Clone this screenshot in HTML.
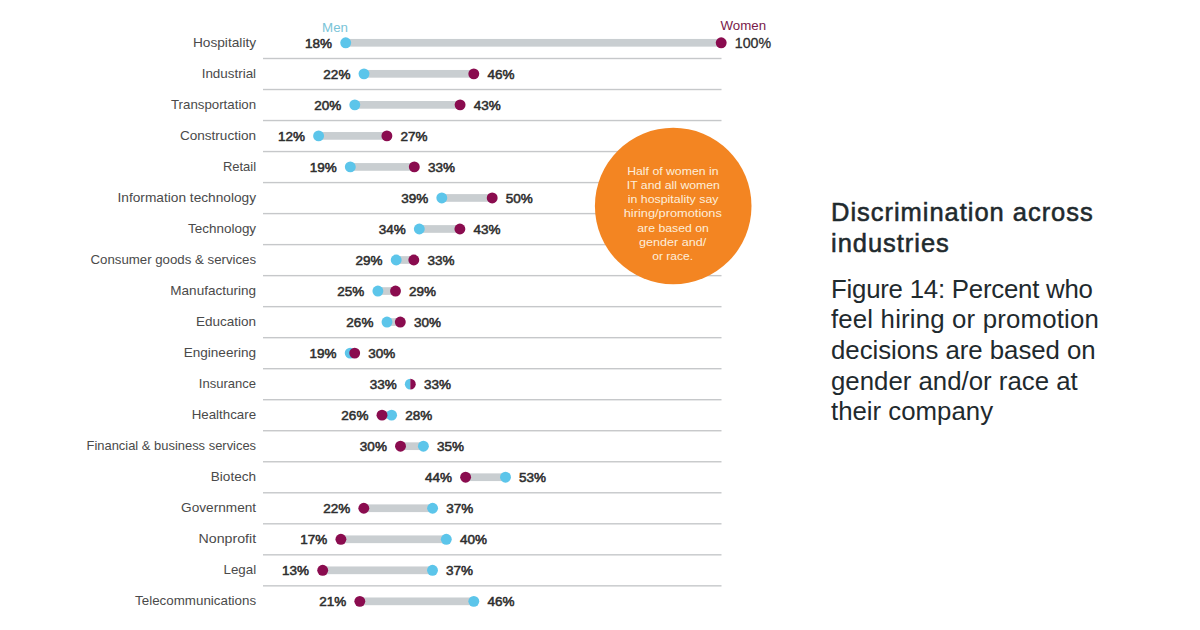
<!DOCTYPE html>
<html><head><meta charset="utf-8">
<style>
html,body{margin:0;padding:0;background:#fff;}
body{width:1200px;height:630px;overflow:hidden;position:relative;font-family:"Liberation Sans",sans-serif;}
svg{position:absolute;left:0;top:0;}
.cat{font-family:"Liberation Sans",sans-serif;font-size:13.4px;fill:#4a4a4a;text-anchor:end;}
.val{font-family:"Liberation Sans",sans-serif;font-size:13.5px;font-weight:normal;fill:#2e2e2e;stroke:#2e2e2e;stroke-width:0.55px;}
.v100{font-weight:normal;font-size:14.2px;stroke:#2e2e2e;stroke-width:0.3px;}
.leg{font-family:"Liberation Sans",sans-serif;font-size:13.3px;}
.circ{font-family:"Liberation Sans",sans-serif;font-size:11.6px;fill:#fdeedb;text-anchor:middle;}
.h1{position:absolute;left:831px;top:197px;font-size:25.5px;letter-spacing:0.97px;-webkit-text-stroke:0.55px #1f2a2e;color:#1f2a2e;line-height:31px;white-space:nowrap;}
.h2{position:absolute;left:831px;top:273.5px;font-size:25.8px;color:#1f2a2e;line-height:30.7px;white-space:nowrap;}
</style></head><body>
<svg width="1200" height="630" viewBox="0 0 1200 630">
<text x="335" y="31.7" class="leg" fill="#79c4d8" text-anchor="middle">Men</text>
<text x="743.3" y="29.8" class="leg" fill="#7a1a4a" text-anchor="middle">Women</text>
<rect x="263" y="57.80" width="458.5" height="1.4" fill="#c6c8ca"/>
<rect x="263" y="88.82" width="458.5" height="1.4" fill="#c6c8ca"/>
<rect x="263" y="119.84" width="458.5" height="1.4" fill="#c6c8ca"/>
<rect x="263" y="150.86" width="458.5" height="1.4" fill="#c6c8ca"/>
<rect x="263" y="181.88" width="458.5" height="1.4" fill="#c6c8ca"/>
<rect x="263" y="212.90" width="458.5" height="1.4" fill="#c6c8ca"/>
<rect x="263" y="243.92" width="458.5" height="1.4" fill="#c6c8ca"/>
<rect x="263" y="274.94" width="458.5" height="1.4" fill="#c6c8ca"/>
<rect x="263" y="305.96" width="458.5" height="1.4" fill="#c6c8ca"/>
<rect x="263" y="336.98" width="458.5" height="1.4" fill="#c6c8ca"/>
<rect x="263" y="368.00" width="458.5" height="1.4" fill="#c6c8ca"/>
<rect x="263" y="399.02" width="458.5" height="1.4" fill="#c6c8ca"/>
<rect x="263" y="430.04" width="458.5" height="1.4" fill="#c6c8ca"/>
<rect x="263" y="461.06" width="458.5" height="1.4" fill="#c6c8ca"/>
<rect x="263" y="492.08" width="458.5" height="1.4" fill="#c6c8ca"/>
<rect x="263" y="523.10" width="458.5" height="1.4" fill="#c6c8ca"/>
<rect x="263" y="554.12" width="458.5" height="1.4" fill="#c6c8ca"/>
<rect x="263" y="585.14" width="458.5" height="1.4" fill="#c6c8ca"/>
<text x="256.10" y="46.50" class="cat" textLength="63.20" lengthAdjust="spacingAndGlyphs">Hospitality</text>
<rect x="345.70" y="38.95" width="375.50" height="7.7" fill="#c9ced1"/>
<circle cx="345.70" cy="42.80" r="5.45" fill="#5cc5ea"/>
<circle cx="721.20" cy="42.80" r="5.45" fill="#8a0c4f"/>
<text x="332.10" y="47.60" class="val" text-anchor="end">18%</text>
<text x="734.80" y="47.60" class="val v100">100%</text>
<text x="256.10" y="77.53" class="cat" textLength="54.40" lengthAdjust="spacingAndGlyphs">Industrial</text>
<rect x="364.00" y="69.98" width="109.80" height="7.7" fill="#c9ced1"/>
<circle cx="364.00" cy="73.83" r="5.45" fill="#5cc5ea"/>
<circle cx="473.80" cy="73.83" r="5.45" fill="#8a0c4f"/>
<text x="350.40" y="78.63" class="val" text-anchor="end">22%</text>
<text x="487.40" y="78.63" class="val">46%</text>
<text x="256.10" y="108.56" class="cat" textLength="85.10" lengthAdjust="spacingAndGlyphs">Transportation</text>
<rect x="354.80" y="101.01" width="105.30" height="7.7" fill="#c9ced1"/>
<circle cx="354.80" cy="104.86" r="5.45" fill="#5cc5ea"/>
<circle cx="460.10" cy="104.86" r="5.45" fill="#8a0c4f"/>
<text x="341.20" y="109.66" class="val" text-anchor="end">20%</text>
<text x="473.70" y="109.66" class="val">43%</text>
<text x="256.10" y="139.59" class="cat" textLength="76.20" lengthAdjust="spacingAndGlyphs">Construction</text>
<rect x="318.60" y="132.04" width="68.30" height="7.7" fill="#c9ced1"/>
<circle cx="318.60" cy="135.89" r="5.45" fill="#5cc5ea"/>
<circle cx="386.90" cy="135.89" r="5.45" fill="#8a0c4f"/>
<text x="305.00" y="140.69" class="val" text-anchor="end">12%</text>
<text x="400.50" y="140.69" class="val">27%</text>
<text x="256.10" y="170.62" class="cat" textLength="33.20" lengthAdjust="spacingAndGlyphs">Retail</text>
<rect x="350.30" y="163.07" width="64.00" height="7.7" fill="#c9ced1"/>
<circle cx="350.30" cy="166.92" r="5.45" fill="#5cc5ea"/>
<circle cx="414.30" cy="166.92" r="5.45" fill="#8a0c4f"/>
<text x="336.70" y="171.72" class="val" text-anchor="end">19%</text>
<text x="427.90" y="171.72" class="val">33%</text>
<text x="256.10" y="201.65" class="cat" textLength="138.60" lengthAdjust="spacingAndGlyphs">Information technology</text>
<rect x="441.80" y="194.10" width="50.40" height="7.7" fill="#c9ced1"/>
<circle cx="441.80" cy="197.95" r="5.45" fill="#5cc5ea"/>
<circle cx="492.20" cy="197.95" r="5.45" fill="#8a0c4f"/>
<text x="428.20" y="202.75" class="val" text-anchor="end">39%</text>
<text x="505.80" y="202.75" class="val">50%</text>
<text x="256.10" y="232.68" class="cat" textLength="68.00" lengthAdjust="spacingAndGlyphs">Technology</text>
<rect x="419.30" y="225.13" width="40.60" height="7.7" fill="#c9ced1"/>
<circle cx="419.30" cy="228.98" r="5.45" fill="#5cc5ea"/>
<circle cx="459.90" cy="228.98" r="5.45" fill="#8a0c4f"/>
<text x="405.70" y="233.78" class="val" text-anchor="end">34%</text>
<text x="473.50" y="233.78" class="val">43%</text>
<text x="256.10" y="263.71" class="cat" textLength="165.60" lengthAdjust="spacingAndGlyphs">Consumer goods &amp; services</text>
<rect x="396.20" y="256.16" width="17.60" height="7.7" fill="#c9ced1"/>
<circle cx="396.20" cy="260.01" r="5.45" fill="#5cc5ea"/>
<circle cx="413.80" cy="260.01" r="5.45" fill="#8a0c4f"/>
<text x="382.60" y="264.81" class="val" text-anchor="end">29%</text>
<text x="427.40" y="264.81" class="val">33%</text>
<text x="256.10" y="294.74" class="cat" textLength="85.80" lengthAdjust="spacingAndGlyphs">Manufacturing</text>
<rect x="377.90" y="287.19" width="17.60" height="7.7" fill="#c9ced1"/>
<circle cx="377.90" cy="291.04" r="5.45" fill="#5cc5ea"/>
<circle cx="395.50" cy="291.04" r="5.45" fill="#8a0c4f"/>
<text x="364.30" y="295.84" class="val" text-anchor="end">25%</text>
<text x="409.10" y="295.84" class="val">29%</text>
<text x="256.10" y="325.77" class="cat" textLength="60.10" lengthAdjust="spacingAndGlyphs">Education</text>
<rect x="387.00" y="318.22" width="13.30" height="7.7" fill="#c9ced1"/>
<circle cx="387.00" cy="322.07" r="5.45" fill="#5cc5ea"/>
<circle cx="400.30" cy="322.07" r="5.45" fill="#8a0c4f"/>
<text x="373.40" y="326.87" class="val" text-anchor="end">26%</text>
<text x="413.90" y="326.87" class="val">30%</text>
<text x="256.10" y="356.80" class="cat" textLength="72.40" lengthAdjust="spacingAndGlyphs">Engineering</text>
<rect x="350.20" y="349.25" width="4.50" height="7.7" fill="#c9ced1"/>
<circle cx="350.20" cy="353.10" r="5.45" fill="#5cc5ea"/>
<circle cx="354.70" cy="353.10" r="5.45" fill="#8a0c4f"/>
<text x="336.60" y="357.90" class="val" text-anchor="end">19%</text>
<text x="368.30" y="357.90" class="val">30%</text>
<text x="256.10" y="387.83" class="cat" textLength="57.30" lengthAdjust="spacingAndGlyphs">Insurance</text>
<path d="M410.30 378.68 A5.45 5.45 0 0 0 410.30 389.58 Z" fill="#5cc5ea"/>
<path d="M410.30 378.68 A5.45 5.45 0 0 1 410.30 389.58 Z" fill="#8a0c4f"/>
<text x="396.70" y="388.93" class="val" text-anchor="end">33%</text>
<text x="423.90" y="388.93" class="val">33%</text>
<text x="256.10" y="418.86" class="cat" textLength="64.40" lengthAdjust="spacingAndGlyphs">Healthcare</text>
<rect x="382.00" y="411.31" width="9.60" height="7.7" fill="#c9ced1"/>
<circle cx="391.60" cy="415.16" r="5.45" fill="#5cc5ea"/>
<circle cx="382.00" cy="415.16" r="5.45" fill="#8a0c4f"/>
<text x="368.40" y="419.96" class="val" text-anchor="end">26%</text>
<text x="405.20" y="419.96" class="val">28%</text>
<text x="256.10" y="449.89" class="cat" textLength="169.60" lengthAdjust="spacingAndGlyphs">Financial &amp; business services</text>
<rect x="400.50" y="442.34" width="22.90" height="7.7" fill="#c9ced1"/>
<circle cx="423.40" cy="446.19" r="5.45" fill="#5cc5ea"/>
<circle cx="400.50" cy="446.19" r="5.45" fill="#8a0c4f"/>
<text x="386.90" y="450.99" class="val" text-anchor="end">30%</text>
<text x="437.00" y="450.99" class="val">35%</text>
<text x="256.10" y="480.92" class="cat" textLength="45.30" lengthAdjust="spacingAndGlyphs">Biotech</text>
<rect x="465.60" y="473.37" width="39.90" height="7.7" fill="#c9ced1"/>
<circle cx="505.50" cy="477.22" r="5.45" fill="#5cc5ea"/>
<circle cx="465.60" cy="477.22" r="5.45" fill="#8a0c4f"/>
<text x="452.00" y="482.02" class="val" text-anchor="end">44%</text>
<text x="519.10" y="482.02" class="val">53%</text>
<text x="256.10" y="511.95" class="cat" textLength="75.00" lengthAdjust="spacingAndGlyphs">Government</text>
<rect x="363.80" y="504.40" width="68.80" height="7.7" fill="#c9ced1"/>
<circle cx="432.60" cy="508.25" r="5.45" fill="#5cc5ea"/>
<circle cx="363.80" cy="508.25" r="5.45" fill="#8a0c4f"/>
<text x="350.20" y="513.05" class="val" text-anchor="end">22%</text>
<text x="446.20" y="513.05" class="val">37%</text>
<text x="256.10" y="542.98" class="cat" textLength="57.50" lengthAdjust="spacingAndGlyphs">Nonprofit</text>
<rect x="340.90" y="535.43" width="105.40" height="7.7" fill="#c9ced1"/>
<circle cx="446.30" cy="539.28" r="5.45" fill="#5cc5ea"/>
<circle cx="340.90" cy="539.28" r="5.45" fill="#8a0c4f"/>
<text x="327.30" y="544.08" class="val" text-anchor="end">17%</text>
<text x="459.90" y="544.08" class="val">40%</text>
<text x="256.10" y="574.01" class="cat" textLength="32.60" lengthAdjust="spacingAndGlyphs">Legal</text>
<rect x="322.70" y="566.46" width="109.80" height="7.7" fill="#c9ced1"/>
<circle cx="432.50" cy="570.31" r="5.45" fill="#5cc5ea"/>
<circle cx="322.70" cy="570.31" r="5.45" fill="#8a0c4f"/>
<text x="309.10" y="575.11" class="val" text-anchor="end">13%</text>
<text x="446.10" y="575.11" class="val">37%</text>
<text x="256.10" y="605.04" class="cat" textLength="121.00" lengthAdjust="spacingAndGlyphs">Telecommunications</text>
<rect x="359.80" y="597.49" width="114.00" height="7.7" fill="#c9ced1"/>
<circle cx="473.80" cy="601.34" r="5.45" fill="#5cc5ea"/>
<circle cx="359.80" cy="601.34" r="5.45" fill="#8a0c4f"/>
<text x="346.20" y="606.14" class="val" text-anchor="end">21%</text>
<text x="487.40" y="606.14" class="val">46%</text>
<circle cx="673.2" cy="206" r="78.3" fill="#f38522"/>
<text class="circ" x="672.85" y="174.60" textLength="91.30" lengthAdjust="spacingAndGlyphs">Half of women in</text>
<text class="circ" x="673.35" y="188.87" textLength="93.10" lengthAdjust="spacingAndGlyphs">IT and all women</text>
<text class="circ" x="673.10" y="203.14" textLength="90.80" lengthAdjust="spacingAndGlyphs">in hospitality say</text>
<text class="circ" x="672.80" y="217.41" textLength="98.20" lengthAdjust="spacingAndGlyphs">hiring/promotions</text>
<text class="circ" x="673.10" y="231.68" textLength="71.60" lengthAdjust="spacingAndGlyphs">are based on</text>
<text class="circ" x="672.65" y="245.95" textLength="67.10" lengthAdjust="spacingAndGlyphs">gender and/</text>
<text class="circ" x="672.65" y="260.22" textLength="40.90" lengthAdjust="spacingAndGlyphs">or race.</text>
</svg>
<div class="h1">Discrimination across<br>industries</div>
<div class="h2"><span style="letter-spacing:-0.23px">Figure 14: Percent who</span><br><span style="letter-spacing:0.17px">feel hiring or promotion</span><br><span style="letter-spacing:-0.03px">decisions are based on</span><br>gender and/or race at<br>their company</div>
</body></html>
